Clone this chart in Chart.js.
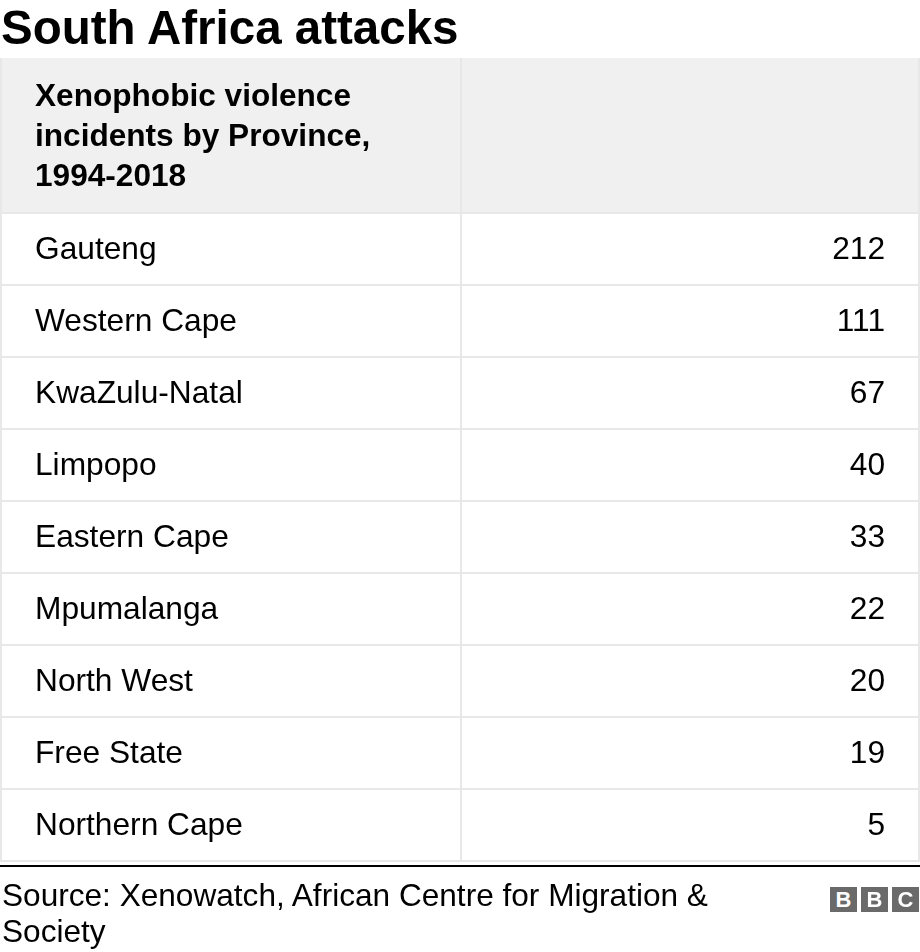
<!DOCTYPE html>
<html>
<head>
<meta charset="utf-8">
<script src="https://cdn.jsdelivr.net/npm/chart.js@4/dist/chart.umd.min.js"></script>
<style>
    body { margin: 0; background: #fff; font-family: "Liberation Sans", Arial, sans-serif; color: #000; }
    #wrap { position: relative; width: 920px; height: 952px; overflow: hidden; }
    #tabla { position: absolute; left: 0; top: 0; }
    .titulo { position: absolute; left: 1px; top: 4px; font-size: 47.5px; line-height: 47.5px; font-weight: bold; white-space: nowrap; }
    .fuente { position: absolute; left: 2px; top: 877px; font-size: 31.6px; line-height: 36px; white-space: nowrap; }
    .bbc { position: absolute; left: 830px; top: 887px; height: 25px; }
    .bbc span { position: absolute; top: 0; width: 27px; height: 25px; background: #6a6a6a; color: #fff; font-weight: bold; font-size: 22px; line-height: 25px; text-align: center; }
</style>
</head>
<body>
<div id="wrap">
    <canvas id="tabla" width="920" height="952"></canvas>
    <div class="titulo">South Africa attacks</div>
    <div class="fuente">Source: Xenowatch, African Centre for Migration &amp;<br>Society</div>
    <div class="bbc"><span style="left:0px">B</span><span style="left:31px">B</span><span style="left:62px">C</span></div>
</div>
<script>
// datos de la tabla
var cabecera = ["Xenophobic violence", "incidents by Province,", "1994-2018"];
var provincias = ["Gauteng", "Western Cape", "KwaZulu-Natal", "Limpopo", "Eastern Cape",
    "Mpumalanga", "North West", "Free State", "Northern Cape"];
var incidentes = [212, 111, 67, 40, 33, 22, 20, 19, 5];

var fuente_normal = '31.7px "Liberation Sans", Arial, sans-serif';
var fuente_negrita = 'bold 31.6px "Liberation Sans", Arial, sans-serif';
var color_borde = '#e8e8e8';

var tabla_plugin = {
    id: 'tabla_plugin',
    beforeDatasetsDraw: function (chart) {
        var ctx = chart.ctx;
        var area = chart.chartArea;
        var y = chart.scales.y;
        var paso = y.getPixelForValue(1) - y.getPixelForValue(0);
        var top_tabla = 58;
        var medio = area.left + (area.right - area.left) / 2;

        ctx.save();
        // cabecera
        ctx.fillStyle = '#f0f0f0';
        ctx.fillRect(area.left, top_tabla, area.right - area.left, area.top - top_tabla);

        ctx.fillStyle = '#000';
        ctx.font = fuente_negrita;
        ctx.textBaseline = 'alphabetic';
        ctx.textAlign = 'left';
        for (var i = 0; i < cabecera.length; i++) {
            ctx.fillText(cabecera[i], area.left + 35, top_tabla + 48 + i * 40);
        }

        // filas
        ctx.fillStyle = color_borde;
        for (var i = 0; i < provincias.length; i++) {
            var fondo = y.getPixelForValue(i) + paso / 2;
            ctx.fillRect(area.left, fondo, area.right - area.left, 2);
        }
        ctx.fillRect(area.left, area.top, area.right - area.left, 2);
        ctx.fillRect(area.left, top_tabla, 2, area.bottom + 2 - top_tabla);
        ctx.fillRect(medio, top_tabla, 2, area.bottom + 2 - top_tabla);
        ctx.fillRect(area.right - 2, top_tabla, 2, area.bottom + 2 - top_tabla);

        ctx.fillStyle = '#000';
        ctx.font = fuente_normal;
        for (var i = 0; i < provincias.length; i++) {
            var centro = y.getPixelForValue(i);
            ctx.textAlign = 'left';
            ctx.fillText(provincias[i], area.left + 35, centro + 11);
            ctx.textAlign = 'right';
            ctx.fillText(String(incidentes[i]), area.right - 35, centro + 11);
        }

        // linea inferior
        ctx.fillStyle = '#000';
        ctx.fillRect(0, area.bottom + 5, chart.width, 2);
        ctx.restore();
    }
};

var chart = new Chart(document.getElementById('tabla'), {
    type: 'bar',
    data: {
        labels: provincias,
        datasets: [{
            label: 'Incidentes',
            data: incidentes,
            backgroundColor: 'rgba(0,0,0,0)',
            borderWidth: 0
        }]
    },
    options: {
        indexAxis: 'y',
        responsive: false,
        animation: false,
        devicePixelRatio: 1,
        layout: {
            padding: { top: 212, bottom: 92, left: 0, right: 0 }
        },
        scales: {
            x: { display: false, min: 0 },
            y: { display: false, offset: true }
        },
        plugins: {
            legend: { display: false },
            tooltip: { enabled: false }
        }
    },
    plugins: [tabla_plugin]
});
</script>
</body>
</html>
